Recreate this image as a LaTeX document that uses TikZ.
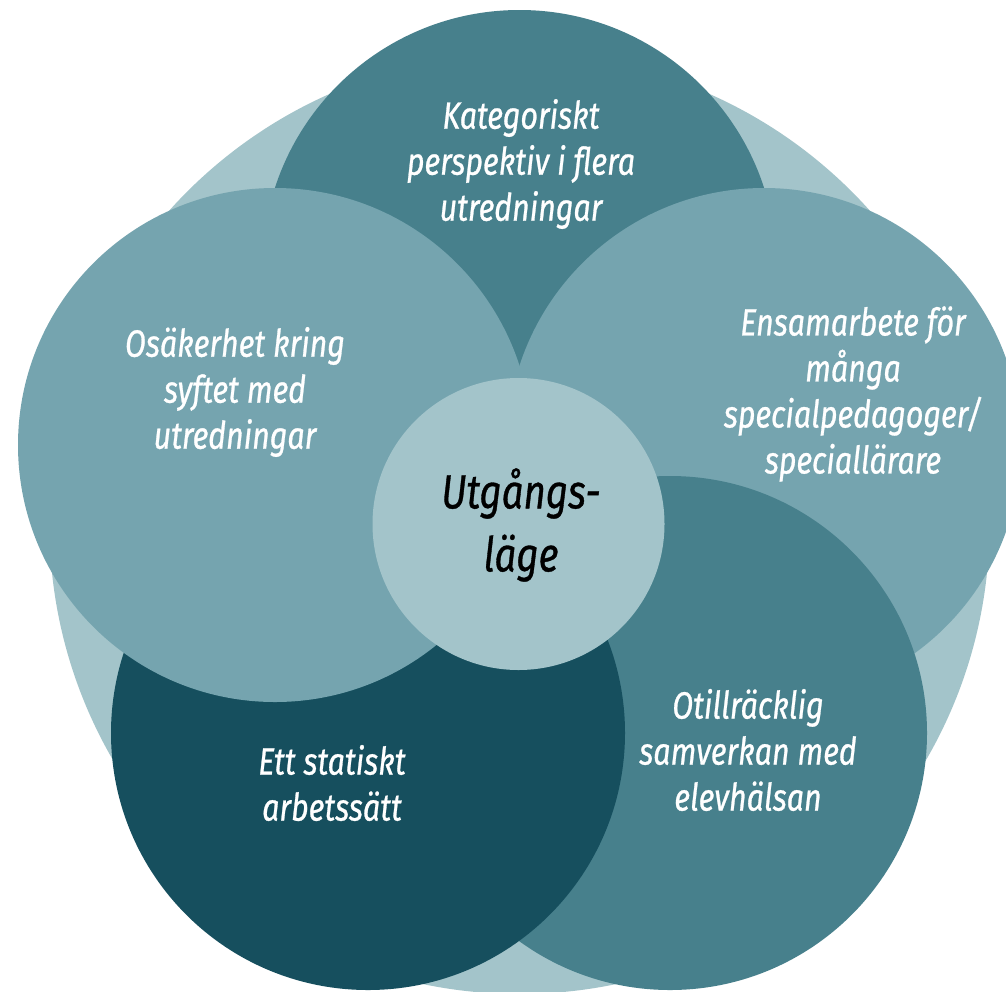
\documentclass[tikz,border=0pt]{standalone}
\usepackage{fontspec}
\newfontfamily\hand{Fira Sans}[FakeStretch=0.8,FakeBold=0.7]
\definecolor{bgc}{HTML}{A3C4CA}
\definecolor{midc}{HTML}{75A4AF}
\definecolor{tealc}{HTML}{47808C}
\definecolor{darkc}{HTML}{164F5E}
\begin{document}
\begin{tikzpicture}[x=0.5pt,y=-0.5pt,
  disc/.style={circle, inner sep=0pt, minimum size=257pt, draw=none},
  lbl/.style={text=white, align=center, font=\hand\itshape\fontsize{19}{23}\selectfont},
  clbl/.style={text=black, align=center, font=\hand\itshape\fontsize{24}{31.5}\selectfont}]
\useasboundingbox (0,0) rectangle (1006,991);
\fill[white] (0,0) rectangle (1006,991);
% background ring
\node[disc, fill=bgc, minimum size=470pt] (bg) at (519.5,524) {};
% five overlapping circles
\node[disc, fill=tealc] (top) at (519.5,267) {};
\node[disc, fill=midc] (right) at (764,445) {};
\node[disc, fill=tealc] (bright) at (670,733) {};
\node[disc, fill=darkc] (bleft) at (368,733) {};
\node[disc, fill=midc] (left) at (275,445) {};
% centre
\node[disc, fill=bgc, minimum size=146pt] (mid) at (518.5,524) {};
% labels
\node[lbl] (ttop) at (521,164) {Kategoriskt\\perspektiv i flera\\utredningar};
\node[lbl] (tleft) at (235,392) {Osäkerhet kring\\syftet med\\utredningar};
\node[lbl] (tright) at (853,394) {Ensamarbete för\\många\\specialpedagoger/\\speciallärare};
\node[lbl] (tbleft) at (332,783) {Ett statiskt\\arbetssätt};
\node[lbl] (tbright) at (748,750) {Otillräcklig\\samverkan med\\elevhälsan};
\node[clbl] (tmid) at (521,525) {Utgångs-\\läge};
\end{tikzpicture}
\end{document}
